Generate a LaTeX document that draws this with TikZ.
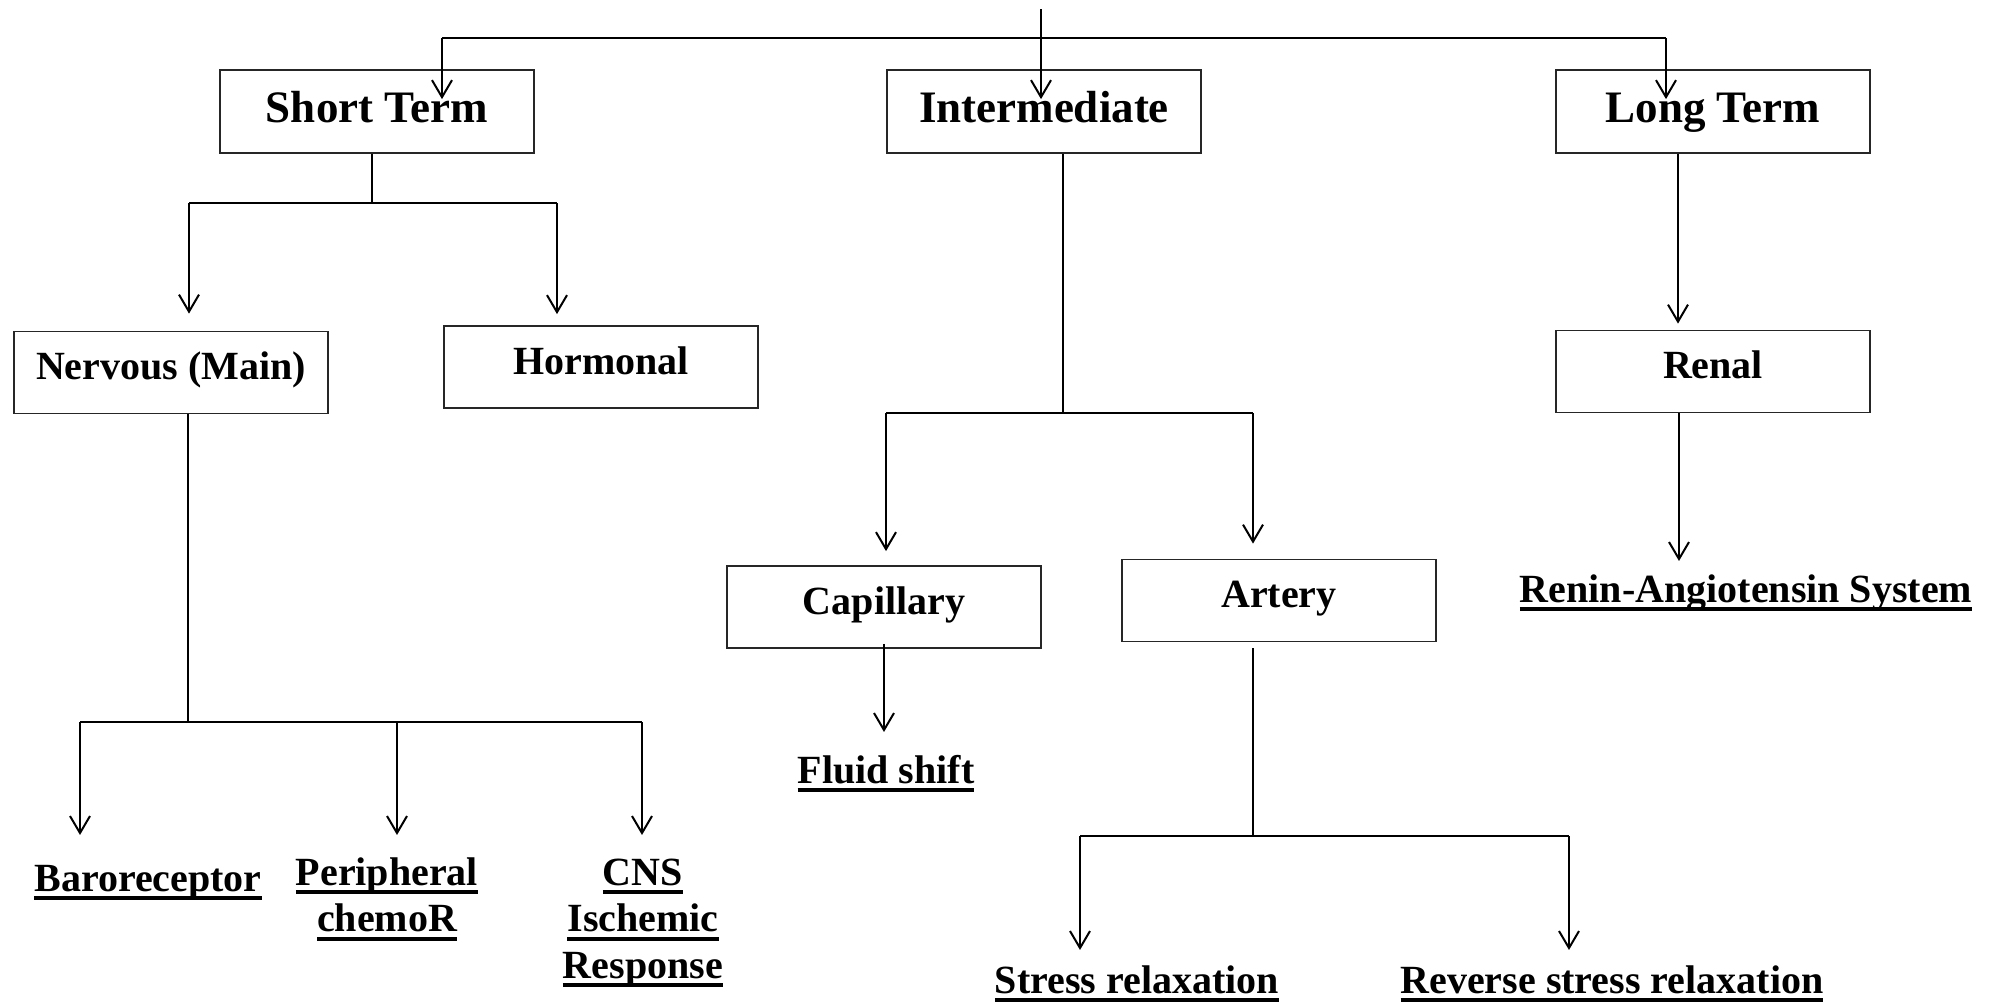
\documentclass[tikz,border=0pt]{standalone}
\usepackage{fontspec}
\setmainfont{Liberation Serif}
\usetikzlibrary{arrows.meta,calc}

% thick underline drawn under a word without changing its depth
\newcommand\ulword[1]{\setbox0\hbox{#1}\leavevmode\rlap{\vrule height -2.5pt depth 4.5pt width \wd0}\box0}
% centred stack of lines whose baseline is the first line
\newcommand\stack[1]{\begin{tabular}[t]{@{}c@{}}#1\end{tabular}}

\begin{document}
\begin{tikzpicture}[
  x=0.5pt, y=-0.5pt,
  ln/.style={line width=1pt},
  arr/.style={line width=1pt, -{Straight Barb[length=8.5pt,width=10pt]}},
  box/.style={draw=black!85, line width=0.9pt, minimum width=157pt, minimum height=41pt,
    inner sep=0pt, font=\fontsize{20}{23}\selectfont\bfseries,
    text height=12.4pt, text depth=5.4pt},
  topbox/.style={box, minimum height=41.5pt, font=\fontsize{22.5}{26}\selectfont\bfseries,
    text height=16pt, text depth=5.5pt},
  lbl/.style={anchor=base, inner sep=0pt, font=\fontsize{20}{23.3}\selectfont\bfseries}
]
\useasboundingbox (0,0) rectangle (1993,1003);

% boxes
\node[topbox] (ST) at (377,111.5) {Short Term};
\node[topbox] (IM) at (1044,111.5) {Intermediate};
\node[topbox] (LT) at (1713,111.5) {Long Term};
\node[box] (NV) at (171,372.5) {Nervous (Main)};
\node[box] (HO) at (601,367) {Hormonal};
\node[box] (RE) at (1713,371.5) {Renal};
\node[box] (CA) at (884,607) {Capillary};
\node[box] (AR) at (1279,600.5) {Artery};

% underlined end labels
\node[lbl] (BA) at (148,891) {\stack{\ulword{Baroreceptor}}};
\node[lbl] (PC) at (387,885) {\stack{\ulword{Peripheral}\\\ulword{chemoR}}};
\node[lbl] (CN) at (643,885) {\stack{\ulword{CNS}\\\ulword{Ischemic}\\\ulword{Response}}};
\node[lbl] (FS) at (886,783) {\stack{\ulword{Fluid shift}}};
\node[lbl] (RA) at (1746,602) {\stack{\ulword{Renin-Angiotensin System}}};
\node[lbl] (SR) at (1137,993) {\stack{\ulword{Stress relaxation}}};
\node[lbl] (RS) at (1612,993) {\stack{\ulword{Reverse stress relaxation}}};

% top level split
\coordinate (src) at (1041,9);
\coordinate (tl) at (442,38);
\coordinate (tr) at (1666,38);
\draw[ln] (tl) -- (tr);
\draw[arr] (src) -- ($(src |- IM.north)+(0,30)$);
\draw[arr] (tl) -- ($(tl |- ST.north)+(0,30)$);
\draw[arr] (tr) -- ($(tr |- LT.north)+(0,30)$);

% short term
\coordinate (sl) at (189,203);
\coordinate (sr) at (557,203);
\coordinate (sj) at (372,203);
\draw[ln] (sj |- ST.south) -- (sj);
\draw[ln] (sl) -- (sr);
\draw[arr] (sl) -- ($(sl |- NV.north)+(0,-17)$);
\draw[arr] (sr) -- ($(sr |- HO.north)+(0,-11)$);

% nervous
\coordinate (nj) at (188,722);
\coordinate (nl) at (80,722);
\coordinate (nm) at (397,722);
\coordinate (nr) at (642,722);
\draw[ln] (nj |- NV.south) -- (nj);
\draw[ln] (nl) -- (nr);
\draw[arr] (nl) -- ($(nl |- BA.north)+(0,-23)$);
\draw[arr] (nm) -- ($(nm |- PC.north)+(0,-17)$);
\draw[arr] (nr) -- ($(nr |- CN.north)+(0,-17)$);

% intermediate
\coordinate (ij) at (1063,413);
\coordinate (il) at (886,413);
\coordinate (ir) at (1253,413);
\draw[ln] (ij |- IM.south) -- (ij);
\draw[ln] (il) -- (ir);
\draw[arr] (il) -- ($(il |- CA.north)+(0,-14)$);
\draw[arr] (ir) -- ($(ir |- AR.north)+(0,-15)$);

% capillary
\draw[arr] ($(CA.south)+(0,-5)$) -- ($(FS.north)+(-2,-18)$);

% artery
\coordinate (aj) at (1253,836);
\coordinate (al) at (1080,836);
\coordinate (ar) at (1569,836);
\draw[ln] ($(aj |- AR.south)+(0,6)$) -- (aj);
\draw[ln] (al) -- (ar);
\draw[arr] (al) -- ($(al |- SR.north)+(0,-10)$);
\draw[arr] (ar) -- ($(ar |- RS.north)+(0,-10)$);

% long term
\coordinate (lj) at (1678,0);
\draw[arr] (lj |- LT.south) -- ($(lj |- RE.north)+(0,-6)$);
\draw[arr] ($(lj |- RE.south)+(1,0)$) -- ($(RA.north)+(-67,-8)$);
\end{tikzpicture}
\end{document}
